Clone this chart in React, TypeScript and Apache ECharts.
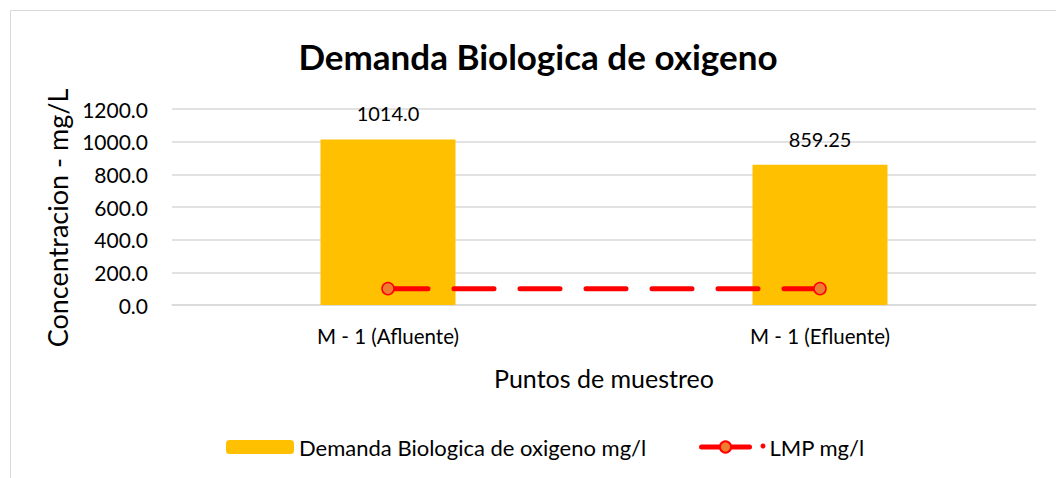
import React, { useEffect, useRef } from "react";
import * as echarts from "echarts";

const categories = ["M - 1 (Afluente)", "M - 1 (Efluente)"];
const dboValues = [1014, 859.25];
const lmpValues = [100, 100];
const yTicks = { min: 0, max: 1200, interval: 200 };

const FONT = "Lato";

export default function App() {
  const ref = useRef<HTMLDivElement>(null);
  useEffect(() => {
    const chart = echarts.init(ref.current!, null, { renderer: "svg" });
    chart.setOption({
      animation: false,
      backgroundColor: "#fff",
      textStyle: { fontFamily: FONT, color: "#000" },
      title: {
        text: "Demanda Biologica de oxigeno",
        left: 533,
        textAlign: "center",
        top: 33,
        textStyle: { fontFamily: FONT, fontSize: 35, fontWeight: "bold", color: "#000" },
      },
      graphic: [
        {
          type: "rect",
          shape: { x: 10.5, y: 10.5, width: 1100, height: 600 },
          style: { fill: "none", stroke: "#D9D9D9", lineWidth: 1 },
          silent: true,
        },
        {
          type: "circle",
          shape: { cx: 763, cy: 446, r: 2.5 },
          style: { fill: "#FF0000" },
          silent: true,
        },
      ],
      grid: { left: 172, right: 20, top: 109, bottom: 173, containLabel: false },
      legend: [
        {
          data: ["Demanda Biologica de oxigeno mg/l"],
          left: 221,
          top: 431,
          itemWidth: 68,
          itemHeight: 14,
          textStyle: { fontFamily: FONT, fontSize: 22, color: "#000", padding: [0, 0, 0, 0] },
        },
        {
          data: [{ name: "LMP mg/l", lineStyle: { type: "solid", width: 5 } }],
          left: 694,
          top: 431,
          itemWidth: 48,
          itemHeight: 14,
          textStyle: { fontFamily: FONT, fontSize: 22, color: "#000", padding: [0, 0, 0, 15] },
        },
      ],
      xAxis: {
        type: "category",
        data: categories,
        axisLine: { lineStyle: { color: "#D9D9D9", width: 1.5 } },
        axisTick: { show: false },
        axisLabel: { fontFamily: FONT, fontSize: 20.5, color: "#000", margin: 20 },
        name: "Puntos de muestreo",
        nameLocation: "middle",
        nameGap: 60,
        nameTextStyle: { fontFamily: FONT, fontSize: 25, color: "#000" },
      },
      yAxis: {
        type: "value",
        min: yTicks.min,
        max: yTicks.max,
        interval: yTicks.interval,
        axisLine: { show: false },
        axisTick: { show: false },
        splitLine: { lineStyle: { color: "#D9D9D9", width: 1.5 } },
        axisLabel: {
          fontFamily: FONT,
          fontSize: 21,
          color: "#000",
          margin: 24,
          formatter: (v: number) => v.toFixed(1),
        },
        name: "Concentracion - mg/L",
        nameLocation: "middle",
        nameGap: 93,
        nameTextStyle: { fontFamily: FONT, fontSize: 27, color: "#000", padding: [0, 22, 0, 0] },
      },
      series: [
        {
          name: "Demanda Biologica de oxigeno mg/l",
          type: "bar",
          data: dboValues,
          barWidth: 135,
          itemStyle: { color: "#FFC000" },
          label: {
            show: true,
            position: "top",
            distance: 16,
            fontFamily: FONT,
            fontSize: 20,
            color: "#000",
            formatter: (p: any) =>
              Number.isInteger(p.value) ? p.value.toFixed(1) : String(p.value),
          },
        },
        {
          name: "LMP mg/l",
          type: "line",
          data: lmpValues,
          symbol: "circle",
          symbolSize: 12,
          itemStyle: { color: "#ED7D31", borderColor: "#FF0000", borderWidth: 1.5 },
          lineStyle: { color: "#FF0000", width: 5, type: [40, 26], cap: "round" },
          z: 5,
        },
      ],
    });
    return () => chart.dispose();
  }, []);
  return (
    <div
      ref={ref}
      style={{ position: "fixed", left: 0, top: 0, width: 1056, height: 478 }}
    />
  );
}
